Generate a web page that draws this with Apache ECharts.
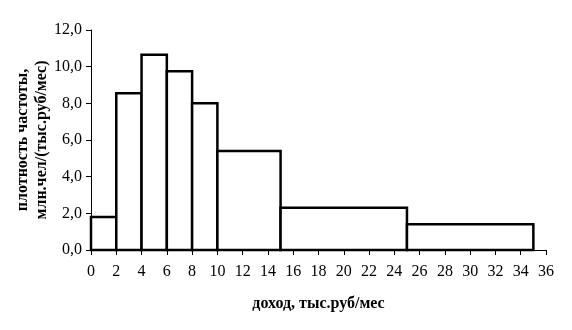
<!DOCTYPE html>
<html><head><meta charset="utf-8">
<script src="https://cdn.jsdelivr.net/npm/echarts@6/dist/echarts.min.js"></script>
<style>html,body{margin:0;padding:0;background:#fff}#c{width:572px;height:330px}</style>
</head><body><div id="c"></div>
<script>
var binStart = [0, 2, 4, 6, 8, 10, 15, 25];
var binEnd   = [2, 4, 6, 8, 10, 15, 25, 35];
var density  = [1.8, 8.55, 10.65, 9.75, 8.0, 5.4, 2.3, 1.4];
var xTitle = 'доход, тыс.руб/мес';
var yTitle = 'плотность частоты,\nмлн.чел/(тыс.руб/мес)';

var data = binStart.map(function(s, i){ return [s, binEnd[i], density[i]]; });
var chart = echarts.init(document.getElementById('c'));
var font = '"Liberation Serif", "Times New Roman", serif';
chart.setOption({
  animation: false,
  grid: {left: 91, right: 26, top: 30, bottom: 80, containLabel: false, outerBoundsMode: 'none'},
  xAxis: {
    type: 'value', min: 0, max: 36, interval: 2,
    name: xTitle, nameLocation: 'middle', nameGap: 46, nameMoveOverlap: false,
    nameTextStyle: {fontFamily: font, fontSize: 16, fontWeight: 'bold', color: '#000'},
    axisLine: {lineStyle: {color: '#000', width: 1}},
    axisTick: {show: true, length: 5, lineStyle: {color: '#000'}},
    axisLabel: {fontFamily: font, fontSize: 16, color: '#000', margin: 14},
    splitLine: {show: false}
  },
  yAxis: {
    type: 'value', min: 0, max: 12, interval: 2,
    name: yTitle, nameLocation: 'middle', nameGap: 40, nameMoveOverlap: false,
    nameTextStyle: {fontFamily: font, fontSize: 16, fontWeight: 'bold', color: '#000', lineHeight: 19, align: 'center'},
    axisLine: {show: true, lineStyle: {color: '#000', width: 1}},
    axisTick: {show: true, length: 5, lineStyle: {color: '#000'}},
    axisLabel: {fontFamily: font, fontSize: 16, color: '#000', margin: 9,
      formatter: function(v){ return v.toFixed(1).replace('.', ','); }},
    splitLine: {show: false}
  },
  series: [{
    type: 'custom',
    data: data,
    renderItem: function(params, api){
      var p0 = api.coord([api.value(0), 0]);
      var p1 = api.coord([api.value(1), api.value(2)]);
      return {
        type: 'rect',
        shape: {x: p0[0], y: p1[1], width: p1[0] - p0[0], height: p0[1] - p1[1]},
        style: {fill: '#fff', stroke: '#000', lineWidth: 2.5}
      };
    }
  }]
});
</script></body></html>
